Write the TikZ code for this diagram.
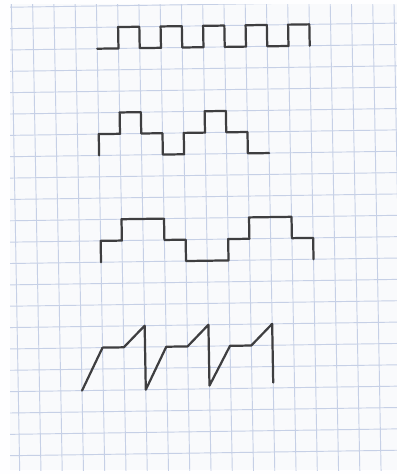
\documentclass[tikz,border=0pt]{standalone}
\usepackage{xcolor}
\usepackage{tikz}
\definecolor{PaperWhite}{HTML}{F9FAFC}
\definecolor{EdgeWhite}{HTML}{FEFEFF}
\definecolor{GridBlue}{HTML}{C6D0E6}
\definecolor{PencilGray}{HTML}{3E3E40}
\tikzset{
  gridline/.style={GridBlue,line width=0.8pt},
  wave/.style={PencilGray,line width=1.9pt,line join=round,line cap=round},
  sheet/.style={shift={(0.981cm,-0.207cm)},x={(0.6375cm,0.009cm)},y={(0.0114cm,-0.6405cm)}}
}

\begin{document}
\begin{tikzpicture}[x=0.03cm,y=-0.03cm]
  \useasboundingbox (0,0) rectangle (397,474);
  \fill[EdgeWhite] (0,0) rectangle (397,474);
  \fill[PaperWhite] (10,4) rectangle (397,470);

  % squared paper
  \begin{scope}
    \clip (10,4) rectangle (397,470);
    \begin{scope}[sheet]
      \foreach \i in {-1,...,18}
        \draw[gridline] (\i,-1) -- (\i,23);
      \foreach \j in {-1,...,22}
        \draw[gridline] (-2,\j) -- (18,\j);
    \end{scope}
  \end{scope}

  \begin{scope}[sheet]
    % square wave
    \draw[wave] (3,2) \foreach \k in {4,6,...,12} {-- (\k,2) -- (\k,1) -- (\k+1,1) -- (\k+1,2)};

    % three-level steps
    \draw[wave] (3,7) -- (3,6) -- (4,6) -- (4,5) -- (5,5) -- (5,6) -- (6,6) -- (6,7)
      -- (7,7) -- (7,6) -- (8,6) -- (8,5) -- (9,5) -- (9,6) -- (10,6) -- (10,7) -- (11,7);

    % wide steps
    \draw[wave] (3,12) -- (3,11) -- (4,11) -- (4,10) -- (6,10) -- (6,11) -- (7,11) -- (7,12)
      -- (9,12) -- (9,11) -- (10,11) -- (10,10) -- (12,10) -- (12,11) -- (13,11) -- (13,12);

    % sawtooth
    \draw[wave] (2,18) -- (3,16) -- (4,16) -- (5,15) -- (5,18)
      -- (6,16) -- (7,16) -- (8,15) -- (8,17.85)
      -- (9,16) -- (10,16) -- (11,15) -- (11,17.75);
  \end{scope}
\end{tikzpicture}
\end{document}
